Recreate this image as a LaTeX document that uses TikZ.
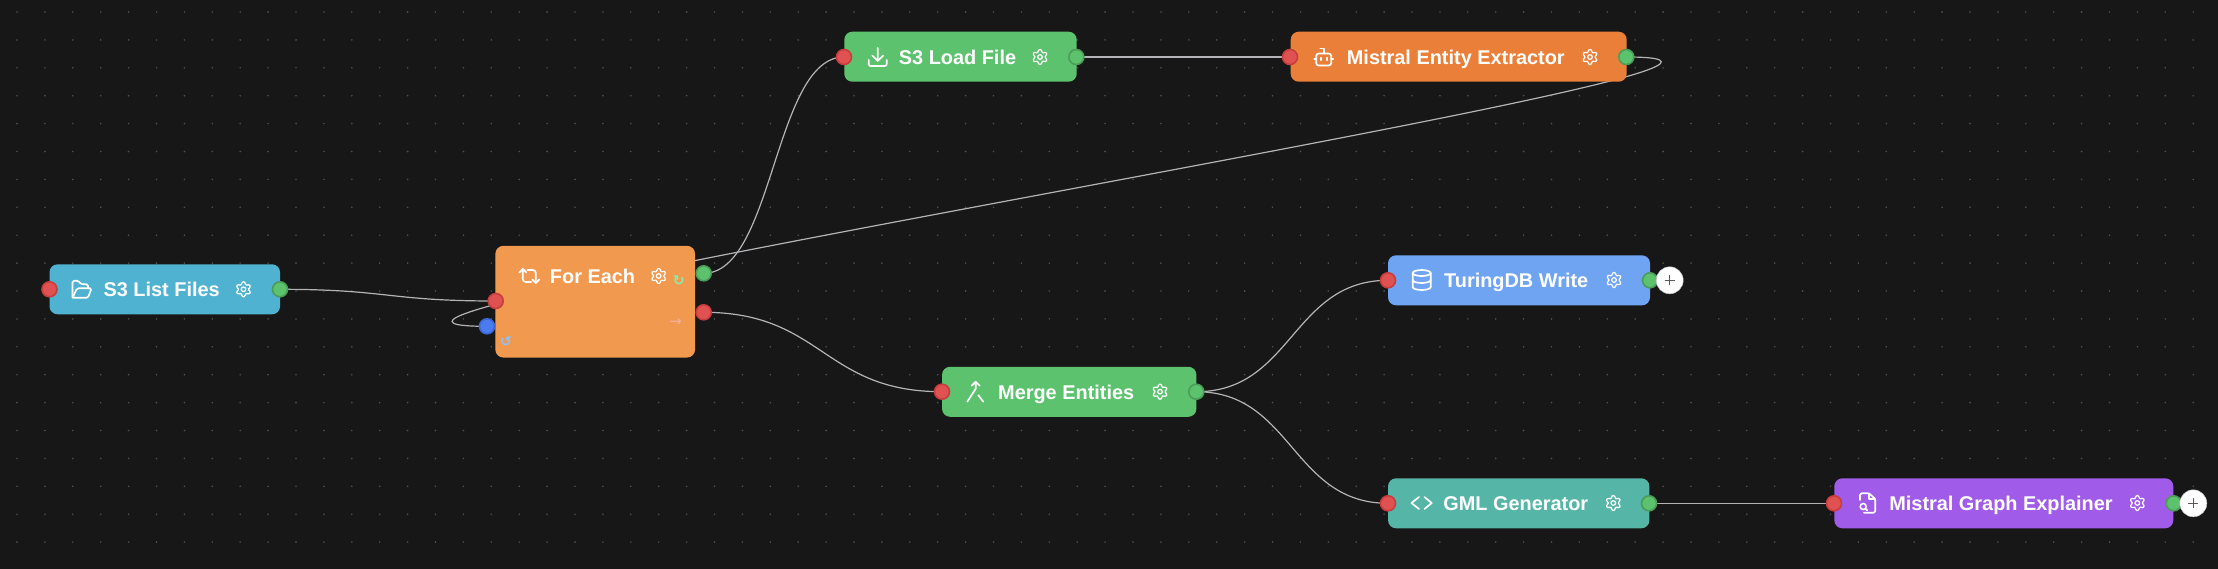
\documentclass[tikz,border=0pt]{standalone}
\usepackage{fontspec}
\setmainfont{Liberation Sans}
\newfontfamily\symfont{DejaVu Sans}
\usetikzlibrary{backgrounds}
\definecolor{canvasbg}{HTML}{171717}
\definecolor{griddot}{HTML}{505050}
\definecolor{wirecol}{HTML}{B4B4B8}
\definecolor{listcol}{HTML}{50B2D1}
\definecolor{eachcol}{HTML}{F0994F}
\definecolor{greencol}{HTML}{5DC26E}
\definecolor{extractcol}{HTML}{E97F38}
\definecolor{writecol}{HTML}{6FA4F2}
\definecolor{gmlcol}{HTML}{55B5A6}
\definecolor{explaincol}{HTML}{A05CE8}
\definecolor{redport}{HTML}{E05252}
\definecolor{redrim}{HTML}{C73D3D}
\definecolor{greenport}{HTML}{5DC26E}
\definecolor{greenrim}{HTML}{4A9C58}
\definecolor{blueport}{HTML}{4A7CF0}
\definecolor{bluerim}{HTML}{3A66D6}
\definecolor{nextcol}{HTML}{8CEBAA}
\definecolor{donecol}{HTML}{F5AFA0}
\definecolor{backcol}{HTML}{93C0F5}
\tikzset{
  flowbox/.style={rounded corners=8pt,minimum height=50pt,inner sep=0pt},
  boxtitle/.style={text=white,inner sep=0pt,anchor=base,yshift=-7pt,font=\fontsize{19.9}{24}\selectfont\bfseries},
  inport/.style={circle,fill=redport,draw=redrim,line width=1.6pt,minimum size=15pt,inner sep=0pt},
  outport/.style={circle,fill=greenport,draw=greenrim,line width=1.6pt,minimum size=15pt,inner sep=0pt},
  loopport/.style={circle,fill=blueport,draw=bluerim,line width=1.6pt,minimum size=15pt,inner sep=0pt},
  plusbtn/.style={circle,fill=white,draw=black!25,line width=0.5pt,minimum size=27pt,inner sep=0pt,
    path picture={\draw[black!65,line width=1.3pt]
      ([xshift=-5pt]path picture bounding box.center)--([xshift=5pt]path picture bounding box.center)
      ([yshift=-5pt]path picture bounding box.center)--([yshift=5pt]path picture bounding box.center);}},
  wire/.style={draw=wirecol,line width=1.2pt},
  iconline/.style={draw=white,line width=1.7pt,line cap=round,line join=round},
  gearicon/.pic={
    \draw[white,line width=1.25pt,line join=round] plot[domain=0:360,samples=73,smooth]
      ({(6.3+1.2*cos(6*\x+180))*cos(\x)},{(6.3+1.2*cos(6*\x+180))*sin(\x)})--cycle;
    \draw[white,line width=1.25pt] (0,0) circle (2.3);
  },
  foldericon/.pic={
    \draw[iconline,rounded corners=1.5pt] (-9.5,8.5)--(-9.5,-8.5)--(-3.5,-8.5)--(-1,-5)--(6,-5)--(6,-1);
    \draw[iconline,rounded corners=1.5pt] (-9.5,8.5)--(6,8.5)--(9.5,-1)--(-5,-1)--cycle;
  },
  downloadicon/.pic={
    \draw[iconline,rounded corners=2pt] (-9,3)--(-9,9)--(9,9)--(9,3);
    \draw[iconline] (0,-9)--(0,4) (-5.5,-1.5)--(0,4)--(5.5,-1.5);
  },
  roboticon/.pic={
    \draw[iconline,rounded corners=2.5pt] (-7.5,-3.5) rectangle (7.5,8.5);
    \draw[iconline] (0,-3.5)--(0,-8.5)--(-3.5,-8.5) (-9.5,2)--(-7.5,2) (7.5,2)--(9.5,2)
      (-3,0.8)--(-3,3.2) (3,0.8)--(3,3.2);
  },
  mergeicon/.pic={
    \draw[iconline] (-4,-6)--(0,-10)--(4,-6) (0,-10)--(0,-3)--(-8.4,10) (2.6,3.5)--(7.6,10);
  },
  dbicon/.pic={
    \draw[iconline] (0,-7) ellipse (9 and 3);
    \draw[iconline] (-9,-7)--(-9,7) arc (180:0:9 and 3)--(9,-7);
    \draw[iconline] (-9,0) arc (180:0:9 and 3);
  },
  codeicon/.pic={
    \draw[iconline] (-2.7,-6)--(-10.3,0)--(-2.7,6) (2.7,-6)--(10,0)--(2.7,6);
  },
  fileicon/.pic={
    \draw[iconline,rounded corners=1.5pt] (-7,-3)--(-7,-9.7)--(2,-9.7)--(8.3,-4)--(8.3,9.7)--(-3,9.7);
    \draw[iconline] (2,-9.7)--(2,-4)--(8.3,-4) (-1.6,5.6)--(0.3,7.5);
    \draw[draw=white,line width=1.5pt] (-3.8,3.5) circle (3);
  },
  repeaticon/.pic={
    \draw[iconline] (-10,-3.5)--(-6.5,-7)--(-3,-3.5) (3,3.5)--(6.5,7)--(10,3.5);
    \draw[iconline,rounded corners=3pt] (-6.5,-7)--(-6.5,6)--(2,6) (6.5,7)--(6.5,-6)--(-2,-6);
  }
}
\begin{document}
\begin{tikzpicture}[x=1pt,y=-1pt]
  \useasboundingbox (0,0) rectangle (2218,568);
  \begin{scope}[on background layer]
    \fill[canvasbg] (-3,-3) rectangle (2221,571);
    \foreach \i in {0,...,79}
      \foreach \j in {0,...,20}
        \fill[griddot] ({17+27.9*\i},{12+27.9*\j}) circle (0.9);
  \end{scope}

  % boxes
  \node[flowbox,fill=listcol,minimum width=230.5pt] (listfiles) at (164.8,289.3) {};
  \node[flowbox,fill=eachcol,minimum width=199.7pt,minimum height=111.7pt] (foreach) at (595.2,301.7) {};
  \node[flowbox,fill=greencol,minimum width=232.4pt] (loadfile) at (960.5,56.7) {};
  \node[flowbox,fill=extractcol,minimum width=336pt] (extractor) at (1458.7,56.7) {};
  \node[flowbox,fill=greencol,minimum width=254.3pt] (merge) at (1069.2,391.8) {};
  \node[flowbox,fill=writecol,minimum width=262pt] (dbwrite) at (1519,280.3) {};
  \node[flowbox,fill=gmlcol,minimum width=261.3pt] (gml) at (1518.7,503.3) {};
  \node[flowbox,fill=explaincol,minimum width=339pt] (explainer) at (2003.8,503.3) {};

  % titles
  \node[boxtitle] (listtitle) at (161.7,289.3) {S3 List Files};
  \node[boxtitle] (eachtitle) at (592.5,276) {For Each};
  \node[boxtitle] (loadtitle) at (957.5,57) {S3 Load File};
  \node[boxtitle] (extracttitle) at (1455.8,57) {Mistral Entity Extractor};
  \node[boxtitle] (mergetitle) at (1066.2,392) {Merge Entities};
  \node[boxtitle] (writetitle) at (1516.2,280) {TuringDB Write};
  \node[boxtitle] (gmltitle) at (1515.8,503) {GML Generator};
  \node[boxtitle] (explaintitle) at (2001,503) {Mistral Graph Explainer};

  % icons
  \pic at (82,289.3) {foldericon};
  \pic at (529.3,276) {repeaticon};
  \pic at (877.7,57) {downloadicon};
  \pic at (1323.7,57) {roboticon};
  \pic at (975.7,391.7) {mergeicon};
  \pic at (1421.7,280) {dbicon};
  \pic at (1421.7,503) {codeicon};
  \pic at (1867,503) {fileicon};
  \foreach \gx/\gy in {243.5/289.3,658.7/276,1040/57,1590/57,1160/391.7,1614/280,1613.3/503,2137.3/503}
    \pic at (\gx,\gy) {gearicon};

  % little marks of the loop box
  \node[text=nextcol,inner sep=0pt,font=\symfont\fontsize{14}{15}\selectfont\bfseries] (nextmark) at (678.7,281) {↻};
  \node[text=donecol,inner sep=0pt,font=\symfont\fontsize{15}{15}\selectfont] (donemark) at (675.7,322.7) {→};
  \node[text=backcol,inner sep=0pt,font=\symfont\fontsize{14}{15}\selectfont\bfseries] (backmark) at (506,341.7) {↺};

  % ports
  \node[inport] (listin) at (49.5,289.3) {};
  \node[outport] (listout) at (280,289.3) {};
  \node[inport] (eachin) at (495.7,301) {};
  \node[loopport] (eachback) at (487,326.3) {};
  \node[outport] (eachloop) at (703.7,273.3) {};
  \node[inport] (eachdone) at (703.7,312.3) {};
  \node[inport] (loadin) at (844,57) {};
  \node[outport] (loadout) at (1076.3,57) {};
  \node[inport] (extractin) at (1290,57) {};
  \node[outport] (extractout) at (1626.3,57) {};
  \node[inport] (mergein) at (942,391.7) {};
  \node[outport] (mergeout) at (1196.3,391.7) {};
  \node[inport] (writein) at (1388,280.3) {};
  \node[outport] (writeout) at (1650,280.3) {};
  \node[inport] (gmlin) at (1388,503.3) {};
  \node[outport] (gmlout) at (1649,503.3) {};
  \node[inport] (explainin) at (1834,503.3) {};
  \node[outport] (explainout) at (2173.7,503.3) {};
  \node[plusbtn] (writeplus) at (1669.7,280.3) {};
  \node[plusbtn] (explainplus) at (2193.3,503.3) {};

  % wires
  \begin{scope}[on background layer]
    \draw[wire] (listout.center) .. controls +(108,0) and +(-108,0) .. (eachin.center);
    \draw[wire] (eachloop.center) .. controls +(70,0) and +(-70,0) .. (loadin.center);
    \draw[wire] (loadout.center) -- (extractin.center);
    \draw[wire] (extractout.center) .. controls +(300,0) and +(-300,0) .. (eachback.center);
    \draw[wire] (eachdone.center) .. controls +(119,0) and +(-119,0) .. (mergein.center);
    \draw[wire] (mergeout.center) .. controls +(96,0) and +(-96,0) .. (writein.center);
    \draw[wire] (mergeout.center) .. controls +(96,0) and +(-96,0) .. (gmlin.center);
    \draw[wire] (gmlout.center) -- (explainin.center);
  \end{scope}
\end{tikzpicture}
\end{document}
